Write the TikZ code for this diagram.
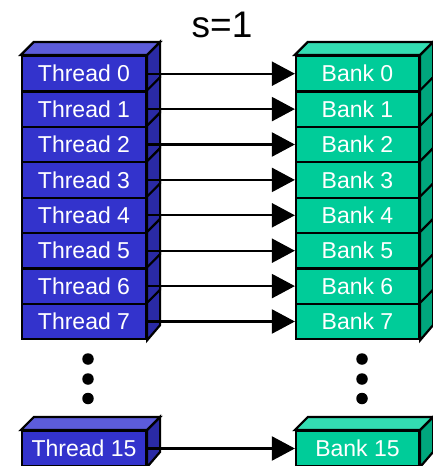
\documentclass[tikz,border=0pt]{standalone}
\usepackage{fontspec}
\setmainfont{Liberation Sans}
\usetikzlibrary{arrows.meta}
\definecolor{thfront}{RGB}{51,51,204}
\definecolor{thtop}{RGB}{92,92,218}
\definecolor{thside}{RGB}{42,42,165}
\definecolor{bkfront}{RGB}{0,204,153}
\definecolor{bktop}{RGB}{51,221,178}
\definecolor{bkside}{RGB}{0,166,125}
\tikzset{
  outl/.style={draw=black, line width=2.2pt, line join=miter},
  thbox/.style={outl, fill=thfront, text=white, minimum width=124pt, minimum height=35.4pt, inner sep=0pt, font=\fontsize{23}{23}\selectfont},
  bkbox/.style={outl, fill=bkfront, text=white, minimum width=123pt, minimum height=35.4pt, inner sep=0pt, font=\fontsize{23}{23}\selectfont},
  conn/.style={line width=2.2pt, -{Triangle[length=23pt,width=24pt]}},
  dotmark/.style={circle, fill=black, minimum size=11.5pt, inner sep=0pt}
}
\begin{document}
\begin{tikzpicture}[x=1pt,y=-1pt]
\useasboundingbox (0,0) rectangle (433,466);
\def\dd{13}
% title
\node[font=\fontsize{37}{37}\selectfont, anchor=base] (title) at (222,37) {s=1};
% rows 0..7
\foreach \k in {0,...,7}{
  \pgfmathsetmacro{\yc}{56+35.4*\k+17.7}
  \node[thbox] (t\k) at (84,\yc) {Thread \k};
  \node[bkbox] (b\k) at (357.5,\yc) {Bank \k};
  \filldraw[outl, fill=thside] (t\k.north east) -- ++(\dd,-\dd) -- ++(0,35.4) -- (t\k.south east) -- cycle;
  \filldraw[outl, fill=bkside] (b\k.north east) -- ++(\dd,-\dd) -- ++(0,35.4) -- (b\k.south east) -- cycle;
}
% top faces
\filldraw[outl, fill=thtop] (t0.north west) -- ++(\dd,-\dd) -- ([shift={(\dd,-\dd)}]t0.north east) -- (t0.north east) -- cycle;
\filldraw[outl, fill=bktop] (b0.north west) -- ++(\dd,-\dd) -- ([shift={(\dd,-\dd)}]b0.north east) -- (b0.north east) -- cycle;
% row 15
\node[thbox, minimum height=35pt] (t15) at (84,448.5) {Thread 15};
\node[bkbox, minimum height=35pt] (b15) at (357.5,448.5) {Bank 15};
\filldraw[outl, fill=thside] (t15.north east) -- ++(\dd,-\dd) -- ++(0,35) -- (t15.south east) -- cycle;
\filldraw[outl, fill=bkside] (b15.north east) -- ++(\dd,-\dd) -- ++(0,35) -- (b15.south east) -- cycle;
\filldraw[outl, fill=thtop] (t15.north west) -- ++(\dd,-\dd) -- ([shift={(\dd,-\dd)}]t15.north east) -- (t15.north east) -- cycle;
\filldraw[outl, fill=bktop] (b15.north west) -- ++(\dd,-\dd) -- ([shift={(\dd,-\dd)}]b15.north east) -- (b15.north east) -- cycle;
% arrows
\foreach \k in {0,...,7,15}{
  \draw[conn] (t\k.east) -- (b\k.west);
}
% dots
\node[dotmark] (tdA) at (88,359) {};
\node[dotmark] (tdB) at (88,379) {};
\node[dotmark] (tdC) at (88,398.5) {};
\node[dotmark] (bdA) at (362,359) {};
\node[dotmark] (bdB) at (362,379) {};
\node[dotmark] (bdC) at (362,398.5) {};
\end{tikzpicture}
\end{document}
